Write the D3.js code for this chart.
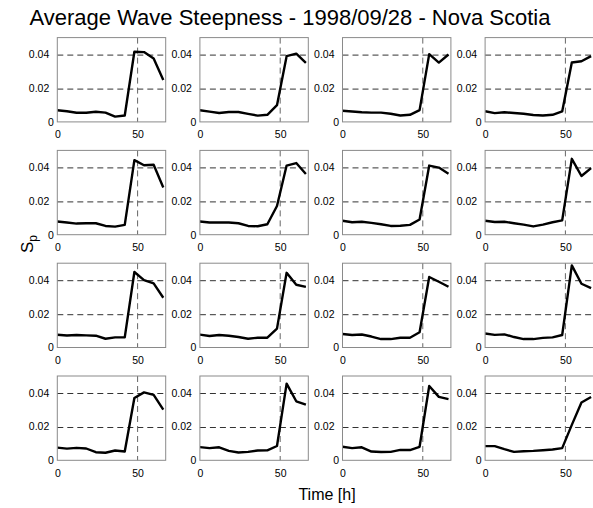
<!DOCTYPE html>
<html><head><meta charset="utf-8">
<script src="https://cdn.jsdelivr.net/npm/d3@7"></script>
<style>
body{margin:0;background:#fff}
svg{display:block}
text{font-family:"Liberation Sans",Arial,Helvetica,sans-serif;fill:#000}
</style>
</head><body>
<svg id="chart" width="593" height="508"></svg>
<script>
// ---- data ----
const hours = [0, 6, 12, 18, 24, 30, 36, 42, 48, 54, 60, 66];
const panel01 = [0.0069, 0.0063, 0.0054, 0.0054, 0.0060, 0.0055, 0.0031, 0.0038, 0.0416, 0.0414, 0.0376, 0.0248];
const panel02 = [0.0069, 0.0061, 0.0053, 0.0059, 0.0059, 0.0048, 0.0037, 0.0042, 0.0099, 0.0390, 0.0405, 0.0350];
const panel03 = [0.0066, 0.0062, 0.0057, 0.0055, 0.0055, 0.0048, 0.0038, 0.0042, 0.0070, 0.0402, 0.0352, 0.0400];
const panel04 = [0.0063, 0.0052, 0.0057, 0.0053, 0.0048, 0.0041, 0.0038, 0.0042, 0.0062, 0.0352, 0.0360, 0.0390];
const panel05 = [0.0078, 0.0072, 0.0066, 0.0068, 0.0068, 0.0052, 0.0048, 0.0058, 0.0442, 0.0412, 0.0415, 0.0280];
const panel06 = [0.0078, 0.0072, 0.0072, 0.0072, 0.0068, 0.0052, 0.0050, 0.0062, 0.0170, 0.0410, 0.0425, 0.0360];
const panel07 = [0.0083, 0.0074, 0.0077, 0.0070, 0.0062, 0.0052, 0.0053, 0.0058, 0.0090, 0.0410, 0.0398, 0.0362];
const panel08 = [0.0083, 0.0075, 0.0077, 0.0068, 0.0060, 0.0049, 0.0060, 0.0074, 0.0085, 0.0450, 0.0348, 0.0395];
const panel09 = [0.0076, 0.0071, 0.0074, 0.0072, 0.0070, 0.0052, 0.0060, 0.0060, 0.0448, 0.0400, 0.0380, 0.0295];
const panel10 = [0.0076, 0.0068, 0.0074, 0.0070, 0.0062, 0.0052, 0.0058, 0.0058, 0.0112, 0.0443, 0.0372, 0.0360];
const panel11 = [0.0080, 0.0074, 0.0077, 0.0065, 0.0050, 0.0050, 0.0058, 0.0058, 0.0090, 0.0418, 0.0390, 0.0360];
const panel12 = [0.0083, 0.0075, 0.0078, 0.0062, 0.0050, 0.0050, 0.0057, 0.0060, 0.0074, 0.0487, 0.0378, 0.0352];
const panel13 = [0.0075, 0.0069, 0.0074, 0.0070, 0.0048, 0.0045, 0.0058, 0.0052, 0.0370, 0.0403, 0.0388, 0.0300];
const panel14 = [0.0078, 0.0072, 0.0077, 0.0056, 0.0046, 0.0050, 0.0058, 0.0059, 0.0085, 0.0455, 0.0350, 0.0330];
const panel15 = [0.0080, 0.0072, 0.0077, 0.0052, 0.0049, 0.0050, 0.0062, 0.0061, 0.0080, 0.0441, 0.0376, 0.0363];
const panel16 = [0.0084, 0.0084, 0.0066, 0.0050, 0.0054, 0.0056, 0.0060, 0.0064, 0.0072, 0.0210, 0.0343, 0.0375];
const panels = [panel01, panel02, panel03, panel04, panel05, panel06, panel07, panel08,
                panel09, panel10, panel11, panel12, panel13, panel14, panel15, panel16];
const xTicks = [0, 50];
const yTicks = [0, 0.02, 0.04];
const xGrid = [50];
const yGrid = [0.02, 0.04];
const titleText = "Average Wave Steepness - 1998/09/28 - Nova Scotia";
const xLabelText = "Time [h]";
const yLabelMain = "S";
const yLabelSub = "p";

// ---- layout ----
const svg = d3.select("#chart");
const nCols = 4;
const colLeft0 = 57.3, colStep = 142.6, W = 108.4;
const rowTop0 = 37.6, rowStep = 112.8, H = 84.3;

const x = d3.scaleLinear().domain([0, 67.5]).range([0, W]);
const y = d3.scaleLinear().domain([0, 0.05]).range([H, 0]);
const line = d3.line().x((d, i) => x(hours[i])).y(d => y(d));

const defs = svg.append("defs");
defs.append("clipPath").attr("id", "clipPanel")
  .append("rect").attr("x", 0).attr("y", 0).attr("width", W).attr("height", H);

panels.forEach((vals, k) => {
  const c = k % nCols, r = Math.floor(k / nCols);
  const g = svg.append("g")
    .attr("transform", `translate(${colLeft0 + c * colStep},${rowTop0 + r * rowStep})`);

  // grid
  g.selectAll(".hg").data(yGrid).enter().append("line")
    .attr("x1", 0).attr("x2", W)
    .attr("y1", d => Math.round(y(d)) + 0.5).attr("y2", d => Math.round(y(d)) + 0.5)
    .attr("stroke", "#333").attr("stroke-width", 1).attr("stroke-dasharray", "6,4");
  g.selectAll(".vg").data(xGrid).enter().append("line")
    .attr("y1", 0).attr("y2", H)
    .attr("x1", d => x(d)).attr("x2", d => x(d))
    .attr("stroke", "#666").attr("stroke-width", 1).attr("stroke-dasharray", "6,4");

  // data line
  g.append("path").datum(vals)
    .attr("clip-path", "url(#clipPanel)")
    .attr("d", line)
    .attr("fill", "none").attr("stroke", "#000").attr("stroke-width", 2.4)
    .attr("stroke-linejoin", "round");

  // box
  g.append("rect").attr("x", 0).attr("y", 0).attr("width", W).attr("height", H)
    .attr("fill", "none").attr("stroke", "#8a8a8a").attr("stroke-width", 1);

  // x axis labels
  const xa = g.append("g").attr("transform", `translate(0,${H})`)
    .call(d3.axisBottom(x).tickValues(xTicks).tickFormat(d3.format("d")).tickSize(0).tickPadding(9));
  xa.select(".domain").remove();
  xa.selectAll("text").attr("font-size", "10.5px").attr("fill", "#000")
    .style("font-family", '"Liberation Sans",Arial,sans-serif');

  // y axis labels
  const ya = g.append("g")
    .call(d3.axisLeft(y).tickValues(yTicks).tickFormat(d => d === 0 ? "0" : d3.format(".2f")(d)).tickSize(0).tickPadding(9));
  ya.select(".domain").remove();
  ya.selectAll("text").attr("font-size", "10.5px").attr("fill", "#000")
    .style("font-family", '"Liberation Sans",Arial,sans-serif')
    .attr("x", d => d === 0 ? -3.5 : -8);
});

// title
svg.append("text").attr("x", 290).attr("y", 25).attr("text-anchor", "middle")
  .attr("font-size", "22px")
  .text(titleText);

// x label
svg.append("text").attr("x", 327).attr("y", 500).attr("text-anchor", "middle")
  .attr("font-size", "16px").text(xLabelText);

// y label
const yl = svg.append("text")
  .attr("transform", "translate(33,244) rotate(-90)")
  .attr("text-anchor", "middle").attr("font-size", "17px");
yl.append("tspan").text(yLabelMain);
yl.append("tspan").attr("font-size", "12px").attr("dy", 4).text(yLabelSub);
</script>
</body></html>
